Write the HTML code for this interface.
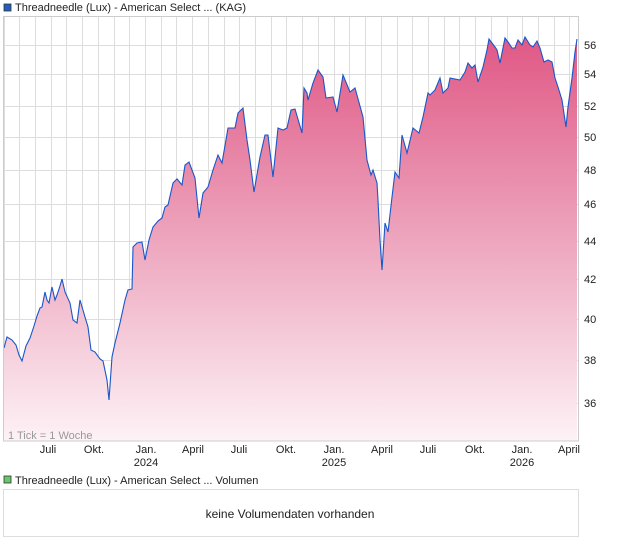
<!DOCTYPE html>
<html><head><meta charset="utf-8"><style>
body{margin:0;background:#fff;width:620px;height:546px;overflow:hidden;font-family:"Liberation Sans",sans-serif}
</style></head><body>
<svg width="620" height="546" xmlns="http://www.w3.org/2000/svg" font-family="Liberation Sans, sans-serif">
<defs>
<linearGradient id="g" x1="0" y1="37" x2="0" y2="441" gradientUnits="userSpaceOnUse">
<stop offset="0" stop-color="#e05885"/>
<stop offset="0.5" stop-color="#eda5bd"/>
<stop offset="1" stop-color="#fdf2f6"/>
</linearGradient>
</defs>
<rect x="4" y="4" width="7" height="7" fill="#1f5fbf" stroke="#333" stroke-width="0.8"/>
<text x="15" y="11" font-size="11" fill="#222">Threadneedle (Lux) - American Select ... (KAG)</text>
<g stroke="#dddddd" stroke-width="1">
<path id="vg" d=""/>
</g>
<g id="grid"></g>
<path fill="url(#g)" stroke="none" id="area"/>
<path fill="none" stroke="#1a56c8" stroke-width="1.1" id="line"/>
<rect x="3.5" y="16.5" width="575" height="424.5" fill="none" stroke="#cccccc"/>
<g font-size="11" fill="#222" id="ylab"></g>
<text x="8" y="439" font-size="11" fill="#999">1 Tick = 1 Woche</text>
<g font-size="11" fill="#222" text-anchor="middle">
<text x="48" y="453">Juli</text><text x="94" y="453">Okt.</text><text x="146" y="453">Jan.</text><text x="146" y="466">2024</text>
<text x="193" y="453">April</text><text x="239" y="453">Juli</text><text x="286" y="453">Okt.</text><text x="334" y="453">Jan.</text><text x="334" y="466">2025</text>
<text x="382" y="453">April</text><text x="428" y="453">Juli</text><text x="475" y="453">Okt.</text><text x="522" y="453">Jan.</text><text x="522" y="466">2026</text><text x="569" y="453">April</text>
</g>
<rect x="4" y="476" width="7" height="7" fill="#6cc46c" stroke="#333" stroke-width="0.8"/>
<text x="15" y="484" font-size="11" fill="#222">Threadneedle (Lux) - American Select ... Volumen</text>
<rect x="3.5" y="489.5" width="575" height="47" fill="none" stroke="#dddddd"/>
<text x="290" y="518" font-size="12" fill="#222" text-anchor="middle">keine Volumendaten vorhanden</text>
</svg>
<script>
var ns="http://www.w3.org/2000/svg",svg=document.querySelector("svg");
var grid=document.getElementById("grid"),d="";
for(var i=0;i<=36;i++){var x=3.5+15.72*i;x=Math.round(x)+0.5;if(x<578)d+="M"+x+" 17V441";}
var ys={56:45,54:74,52:106,50:137,48:170,46:204,44:241,42:279,40:319,38:360,36:403};
var yl=document.getElementById("ylab");
for(var k in ys){d+="M4 "+(ys[k]+0.5)+"H578";var t=document.createElementNS(ns,"text");t.setAttribute("x",584);t.setAttribute("y",ys[k]+4);t.textContent=k;yl.appendChild(t);}
document.getElementById("vg").setAttribute("d",d);
var p=[[4,348],[7,337],[12,340],[16,345],[19,355],[22,361],[26,346],[30,338],[34,326],[37,316],[40,308],[42,307],[45,292],[47,300],[49,303],[52,287],[55,300],[57,295],[60,286],[62,279],[65,292],[70,303],[73,320],[77,323],[80,300],[85,317],[88,327],[91,350],[95,352],[100,359],[103,361],[107,380],[109,400],[112,357],[115,343],[120,323],[125,300],[128,290],[132,289],[133,247],[137,243],[142,242],[145,260],[149,240],[153,227],[158,221],[162,218],[165,207],[168,205],[173,183],[177,179],[182,185],[185,165],[189,162],[195,178],[199,218],[203,193],[208,187],[213,170],[218,155],[222,163],[228,128],[235,128],[238,113],[243,108],[247,140],[250,160],[254,192],[260,157],[265,135],[268,135],[273,177],[278,128],[283,130],[287,128],[291,110],[295,109],[302,133],[304,88],[307,93],[308,100],[313,83],[318,70],[323,77],[326,98],[333,97],[337,112],[343,75],[350,92],[355,88],[363,117],[367,160],[371,175],[373,170],[377,183],[378,200],[380,240],[382,270],[385,223],[388,232],[392,197],[395,172],[399,178],[402,135],[407,153],[413,128],[419,133],[423,117],[428,93],[430,95],[435,90],[440,78],[443,93],[448,88],[450,78],[460,80],[465,72],[468,63],[472,68],[475,65],[478,82],[483,67],[487,50],[489,39],[495,47],[497,50],[500,63],[505,38],[508,42],[512,48],[515,48],[518,40],[522,45],[525,37],[530,45],[533,47],[537,41],[540,48],[544,62],[548,60],[552,62],[555,78],[558,87],[562,100],[566,127],[568,107],[572,78],[575,52],[577,39]];
var s="M"+p.map(function(a){return a[0]+" "+a[1]}).join("L");
document.getElementById("line").setAttribute("d",s);
document.getElementById("area").setAttribute("d",s+"L577 441L4 441Z");
</script>
</body></html>
